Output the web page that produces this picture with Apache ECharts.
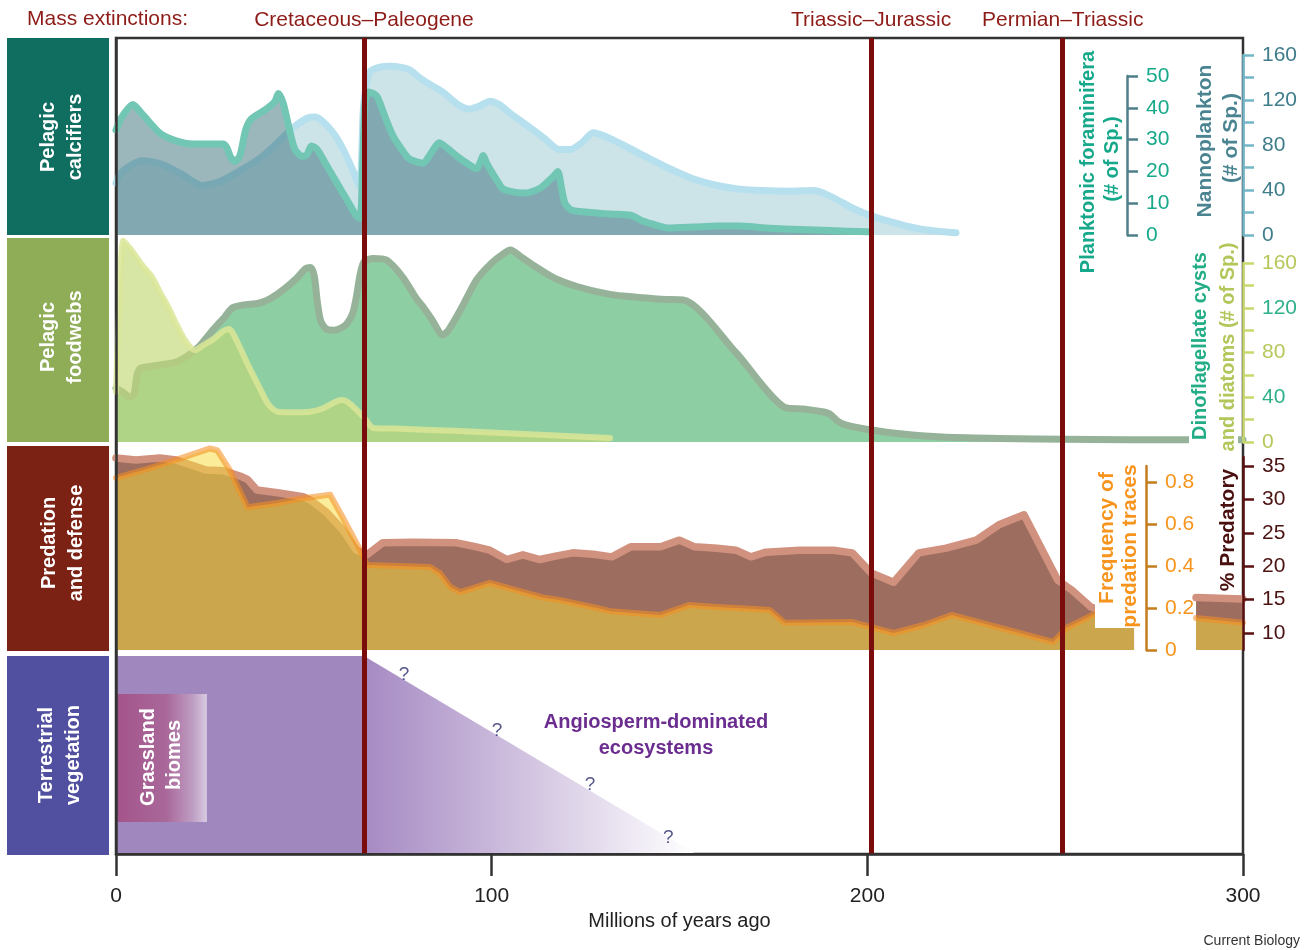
<!DOCTYPE html>
<html><head><meta charset="utf-8">
<script src="https://cdn.jsdelivr.net/npm/echarts@6/dist/echarts.min.js"></script>
<style>html,body{margin:0;padding:0;background:#fff}#c{width:1309px;height:950px}</style>
</head><body><div id="c"></div>
<script>
const FONT = "'Liberation Sans', Arial, Helvetica, sans-serif";

// ---- Data (ages in millions of years ago) ----
const extinctionNames = ['Cretaceous–Paleogene', 'Triassic–Jurassic', 'Permian–Triassic'];
const extinctionAges = [66, 201, 252];
const xTicks = [0, 100, 200, 300];

const nannoAge = [0,1,4,7,12,17,23,28,34,39,43,47,51,53,55,58,60.5,63,64.8,65.3,65.8,66.5,67.6,70,73,76,78,82,87,91,94,97,99.5,102,105,110,114,118,121,124,127,130,135,142,148,153.6,160,165.5,172,180,186,188.5,191.6,196,201,207,213,218,223.6];
const nannoSp = [46,54,62,66,63,55,44,48,59,70,82,95,104,105,101,90,76,58,44,60,110,130,145,149,150,149,147,137,127,116,112,115,119,116,108,96,86,76,76,82,91,88,80,68,58,50,44,41,39.5,39,39.5,37,32,24,17,11,6,3.5,2];

const foramAge = [0,1.5,4.5,7,11.7,16,20.5,28.5,29.5,30.5,31.7,33,34.5,36,40,42.3,43.2,44.5,46,47.6,49.5,50.8,52,53.5,56,58.8,61.5,64,65,65.6,66.3,67.2,69.4,71.5,73.8,76,78,81.7,84,86,88.5,90.7,93.5,96,97,97.7,98.7,99.5,101.5,103,106,109,113,116.5,117.6,118.7,119.5,121,122.7,131.5,137,140,142.7,147,154,160,166,172,178,190,200];
const foramSp = [33,37,41,38,32,29.6,28.6,28.6,27.5,24.5,23.2,25,33,36.5,39.6,42,44.5,41.5,34,27,24.8,25.2,28,27,22,16.4,11,6,5.3,20,41.5,45,43.7,37.5,31,27,24,22.6,26,29,27,24.8,22.5,20.8,23,25,22.5,20.8,17,14.5,13.5,13.2,14.8,18.5,20,14,10,8,7.5,6.6,6.2,4.5,3.5,2.2,2.5,2.8,2.8,2.3,1.9,1.4,1];

const dinoAge = [0,2,3.7,4.8,5.6,6.5,8,12,16,19,22,26,29,31,34,38,41,44.5,48,50.5,51.8,52.8,53.6,54.5,56,58,60,61.5,63,64,65,66,68.4,72,76.4,80,81.7,84,87,88.5,92,96,100,103,105,108,112,117,122.7,131.5,140,145,151,165,178,183,188,190,192,194,201,210,220,235,245,260,280,300];
const dinoSp = [48,44,40,43,60,66,67,69,71.5,77,85,101,112,120,122.5,124,128,136,146,155,156,148,125,108,101,100,102,106,115,130,150,161,164,162.6,147,128,121,110,95.6,100,120,145,160,168,171.6,165,156,146,139,132,129,127.5,127,80,31,29.5,27,25,19,15.5,10.7,7,4.5,3.2,2.7,2.2,2,2];

const diatomAge = [0,0.6,1.3,1.9,2.5,4,7,9.5,11.7,14,16,18,20,21,23,26,28.5,30,31,32.5,35,38,40.5,43,47,51.6,55,58.5,60,62,66,68.5,74,90,110,131.5];
const diatomSp = [45,100,160,180,178,172,158,148,134,120,106,93,84,82,86,92,99,101,98,88,70,50,34,27,26.5,27,30,36,37.5,35,22,12.5,12,10,7,3.5];

const predAge = [0,5.3,11.7,16,24,28.5,33,35,37.5,43,49.8,52,56,60.4,64,66.8,71,79,90.7,95,99.5,104,108.3,112.8,117,121.6,127,132,137,145,150,154,160,165,169,173,182,191,196,201,207,213.7,221,229,235,241.7,250.7,254.5,259.5,265,271,279,287.5,300];
const predPct = [36.2,35.9,36.2,35.9,34.4,34.3,33.5,33,31.4,31,30.4,29.8,28.1,25.4,22.4,21.7,23.5,23.6,23.5,23,22.4,21,21.7,21,21.5,22,21.8,21.4,22.9,22.9,23.9,22.9,22.7,22.4,21.4,22.1,22.4,22.4,22,19,17.6,22,22.7,23.9,26.2,27.7,17.9,16.4,13.9,12.8,12.5,null,15.3,15.1];

const freqAge = [0,7.2,16,25,27,30.3,35,43,49,57,60.4,65,66.8,83.6,86.2,89,91.6,99.5,113.6,118,128,131.5,145,152.5,160,170,174,178,196,207,215,222.5,249.5,253,261,271,279,287.5,300];
const freqVal = [0.82,0.857,0.905,0.96,0.95,0.857,0.68,0.70,0.72,0.74,0.63,0.476,0.405,0.395,0.366,0.3,0.276,0.32,0.25,0.238,0.2,0.185,0.167,0.214,0.205,0.195,0.19,0.13,0.133,0.081,0.119,0.167,0.038,0.105,0.176,0.18,null,0.152,0.13];

const vegAge = [0, 66, 154];
const vegLevel = [1, 1, 0];
const grassAge = [0.3, 24.2];
const grassLevel = [0.157, 0.807];
const qAge = [76.7, 101.4, 126.2, 147];
const qLevel = [0.904, 0.62, 0.345, 0.076];

const nannoTicks = [0, 40, 80, 120, 160];
const foramTicks = [0, 10, 20, 30, 40, 50];
const freqTicks = [0, 0.2, 0.4, 0.6, 0.8];
const predTicks = [10, 15, 20, 25, 30, 35];

// ---- helpers ----
function zip(a, b) { return a.map((x, i) => [x, b[i] === null ? '-' : b[i]]); }
const L = 116, W = 1127;

function hiddenX(i) { return {gridIndex: i, type: 'value', min: 0, max: 300, show: false}; }
function vtext(str, x, y, color, size, weight) {
  return {type: 'text', x: x, y: y, rotation: Math.PI / 2, z: 20, silent: true,
    style: {text: str, fill: color, font: (weight || 'bold') + ' ' + size + 'px ' + FONT,
      align: 'center', verticalAlign: 'middle', textAlign: 'center', textVerticalAlign: 'middle'}};
}
function htext(str, x, y, color, size, weight, align) {
  return {type: 'text', x: x, y: y, z: 20, silent: true,
    style: {text: str, fill: color, font: (weight || 'normal') + ' ' + size + 'px ' + FONT,
      align: align || 'center', verticalAlign: 'middle', textAlign: align || 'center', textVerticalAlign: 'middle'}};
}
function rect(x, y, w, h, fill, z) {
  return {type: 'rect', shape: {x: x, y: y, width: w, height: h}, style: {fill: fill}, z: z || 1, silent: true};
}

const boxes = [
  {y: 38, h: 197, color: '#106e61', lines: ['Pelagic', 'calcifiers'], cy: 137, x1: 48, x2: 75},
  {y: 238, h: 204, color: '#8fac57', lines: ['Pelagic', 'foodwebs'], cy: 337, x1: 48, x2: 75},
  {y: 446, h: 205, color: '#7b2215', lines: ['Predation', 'and defense'], cy: 543, x1: 49, x2: 76},
  {y: 656, h: 199, color: '#5150a0', lines: ['Terrestrial', 'vegetation'], cy: 755, x1: 46, x2: 73}
];
const graphics = [];
boxes.forEach(b => {
  graphics.push(rect(7, b.y, 102, b.h, b.color, 1));
  graphics.push(vtext(b.lines[0], b.x1, b.cy, '#ffffff', 20));
  graphics.push(vtext(b.lines[1], b.x2, b.cy, '#ffffff', 20));
});
graphics.push(htext('Mass extinctions:', 27, 19, '#8d1b17', 21, 'normal', 'left'));
// right axis titles
graphics.push(vtext('Planktonic foraminifera', 1088, 162, '#16a88a', 20));
graphics.push(vtext('(# of Sp.)', 1112, 159, '#16a88a', 20));
graphics.push(vtext('Nannoplankton', 1205, 141, '#4a8491', 21));
graphics.push(vtext('(# of Sp.)', 1231, 138, '#4a8491', 21));
graphics.push(rect(1189, 431, 49, 16, '#ffffff', 15));
graphics.push(vtext('Dinoflagellate cysts', 1200, 346, '#22ad86', 20));
graphics.push(vtext('and diatoms (# of Sp.)', 1228, 347, '#b1c75a', 20));
graphics.push(rect(1095, 460, 46, 168, '#ffffff', 15));
graphics.push(vtext('Frequency of', 1107, 538, '#f7941d', 21));
graphics.push(vtext('predation traces', 1130, 546, '#f7941d', 21));
graphics.push(vtext('% Predatory', 1228, 530, '#4a0f0f', 21));
// vegetation texts
graphics.push(vtext('Grassland', 148, 757, '#ffffff', 20));
graphics.push(vtext('biomes', 174, 755, '#ffffff', 20));
graphics.push(htext('Angiosperm-dominated', 656, 722, '#6b2d8f', 20, 'bold'));
graphics.push(htext('ecosystems', 656, 748, '#6b2d8f', 20, 'bold'));
graphics.push(htext('Current Biology', 1300, 941, '#333333', 14, 'normal', 'right'));

const rightAxisBase = (gi, color, labelColor) => ({
  gridIndex: gi, type: 'value', position: 'right', z: 6,
  axisLine: {show: true, onZero: false, lineStyle: {color: color, width: 2.5}},
  axisTick: {show: true, inside: false, length: 11, lineStyle: {color: color, width: 2.5}},
  axisLabel: {show: true, margin: 19, fontSize: 21, fontFamily: FONT, color: labelColor},
  splitLine: {show: false}
});

const nannoAxis = rightAxisBase(1, '#72b6c8', '#3f7d8b');
Object.assign(nannoAxis, {min: 0, max: 160, interval: 20});
nannoAxis.axisLabel.formatter = v => nannoTicks.includes(v) ? String(v) : '';

const foramAxis = rightAxisBase(2, '#4f7f88', '#17a98a');
Object.assign(foramAxis, {min: 0, max: 50, interval: 10, offset: -116});
foramAxis.axisLabel.formatter = v => foramTicks.includes(v) ? String(v) : '';

const dinoAxis = rightAxisBase(3, '#c9d86e', '#b5c85a');
Object.assign(dinoAxis, {min: 0, max: 160, interval: 20});
dinoAxis.axisLabel.formatter = v => !nannoTicks.includes(v) ? '' : (v % 80 === 0 ? '{y|' + v + '}' : '{g|' + v + '}');
dinoAxis.axisLabel.rich = {y: {color: '#b5c85a', fontSize: 21, fontFamily: FONT}, g: {color: '#2fb08a', fontSize: 21, fontFamily: FONT}};

const freqAxis = rightAxisBase(4, '#c47d1e', '#f7941d');
Object.assign(freqAxis, {min: 0, max: 184 / 210, offset: -97});
freqAxis.axisTick.customValues = freqTicks;
freqAxis.axisLabel.customValues = freqTicks;
freqAxis.axisLabel.formatter = v => v === 0 ? '0' : Number(v).toFixed(1);

const predAxis = rightAxisBase(5, '#5a1010', '#4b1212');
Object.assign(predAxis, {min: 10 - 17 / 6.68, max: 35 + 9 / 6.68});
predAxis.axisTick.customValues = predTicks;
predAxis.axisLabel.customValues = predTicks;
predAxis.axisLabel.formatter = v => String(Math.round(v));

function lineSeries(name, xi, yi, data, z, smooth, lineColor, lineWidth, fillColor) {
  return {name: name, type: 'line', xAxisIndex: xi, yAxisIndex: yi, data: data,
    smooth: smooth, symbol: 'none', clip: false, silent: true, connectNulls: false, z: z,
    lineStyle: {color: lineColor, width: lineWidth, join: 'round', cap: 'round'},
    areaStyle: {color: fillColor, opacity: 1, origin: 'start'}};
}

const grassGradient = new echarts.graphic.LinearGradient(0, 0, 1, 0, [
  {offset: 0, color: '#a4548a'}, {offset: 0.55, color: '#a9689a'}, {offset: 0.85, color: '#bf9fc4'}, {offset: 1, color: '#d8cbe2'}]);

const option = {
  animation: false,
  backgroundColor: '#ffffff',
  textStyle: {fontFamily: FONT},
  grid: [
    {left: L, top: 38, width: W, height: 816, show: true, borderColor: '#333', borderWidth: 2.5, backgroundColor: 'transparent'},
    {left: L, top: 55, width: W, height: 180},
    {left: L, top: 76, width: W, height: 159},
    {left: L, top: 263, width: W, height: 179},
    {left: L, top: 466, width: W, height: 184},
    {left: L, top: 457, width: W, height: 193},
    {left: L, top: 656, width: W, height: 197}
  ],
  xAxis: [
    {gridIndex: 0, type: 'value', min: 0, max: 300, interval: 100, position: 'bottom', z: 6,
      axisLine: {show: true, onZero: false, lineStyle: {color: '#333', width: 2.5}},
      axisTick: {show: true, length: 22, lineStyle: {color: '#333', width: 2.5}},
      axisLabel: {color: '#222', fontSize: 21, margin: 32, fontFamily: FONT, showMinLabel: true, showMaxLabel: true,
        formatter: v => xTicks.includes(v) ? String(v) : ''},
      splitLine: {show: false},
      name: 'Millions of years ago', nameLocation: 'middle', nameGap: 54,
      nameTextStyle: {fontSize: 20, color: '#222', fontFamily: FONT}},
    hiddenX(1), hiddenX(2), hiddenX(3), hiddenX(4), hiddenX(5), hiddenX(6)
  ],
  yAxis: [
    {gridIndex: 0, type: 'value', min: 0, max: 1, position: 'left', z: 6,
      axisLine: {show: true, lineStyle: {color: '#333', width: 2.5}},
      axisTick: {show: false}, axisLabel: {show: false}, splitLine: {show: false}},
    nannoAxis, foramAxis, dinoAxis, freqAxis, predAxis,
    {gridIndex: 6, type: 'value', min: 0, max: 1, show: false}
  ],
  graphic: graphics,
  series: [
    lineSeries('Nannoplankton', 1, 1, zip(nannoAge, nannoSp), 2, 0.25, '#b7e0ee', 7, '#cce3e8'),
    lineSeries('Planktonic foraminifera', 2, 2, zip(foramAge, foramSp), 3, 0.25, '#72c6b4', 7, 'rgba(55,112,122,0.5)'),
    lineSeries('Dinoflagellate cysts', 3, 3, zip(dinoAge, dinoSp), 2, 0.25, '#96b39a', 7, '#8ecea3'),
    lineSeries('Diatoms', 3, 3, zip(diatomAge, diatomSp), 3, 0.25, 'rgba(218,230,150,0.85)', 6, 'rgba(194,215,117,0.65)'),
    lineSeries('% Predatory', 5, 5, zip(predAge, predPct), 2, false, '#d1917f', 7.5, '#9d6e60'),
    lineSeries('Frequency of predation traces', 4, 4, zip(freqAge, freqVal), 3, false, 'rgba(244,142,32,0.57)', 6, 'rgba(245,218,60,0.52)'),
    {name: 'Angiosperm-dominated ecosystems', type: 'line', xAxisIndex: 6, yAxisIndex: 6, data: zip(vegAge, vegLevel),
      smooth: false, symbol: 'none', silent: true, z: 2,
      lineStyle: {width: 0, opacity: 0},
      areaStyle: {opacity: 1, origin: 'start', color: {type: 'linear', x: 0, y: 0, x2: 1, y2: 0, colorStops: [
        {offset: 0, color: '#a088be'}, {offset: 0.428, color: '#a088be'}, {offset: 0.43, color: '#a68ac3'}, {offset: 1, color: '#ffffff'}]}}},
    {name: 'Grassland biomes', type: 'custom', xAxisIndex: 6, yAxisIndex: 6, z: 3, silent: true,
      data: [[grassAge[0], grassLevel[0], grassAge[1], grassLevel[1]]],
      renderItem: function (params, api) {
        const p1 = api.coord([api.value(0), api.value(3)]);
        const p2 = api.coord([api.value(2), api.value(1)]);
        return {type: 'rect', shape: {x: p1[0], y: p1[1], width: p2[0] - p1[0], height: p2[1] - p1[1]},
          style: {fill: grassGradient}};
      }},
    {name: 'uncertainty', type: 'scatter', xAxisIndex: 6, yAxisIndex: 6, data: zip(qAge, qLevel),
      symbolSize: 1, itemStyle: {color: 'rgba(0,0,0,0)'}, silent: true, z: 5,
      label: {show: true, position: 'inside', formatter: '?', color: '#2b2b6b', fontSize: 19, fontFamily: FONT}},
    {name: 'Mass extinctions', type: 'line', xAxisIndex: 0, yAxisIndex: 0, data: [], z: 4, silent: true,
      markLine: {silent: true, symbol: ['none', 'none'], animation: false,
        lineStyle: {color: '#7b0c0c', width: 5, type: 'solid'},
        emphasis: {disabled: true},
        label: {show: true, position: 'end', formatter: '{b}', color: '#8d1b17', fontSize: 21, fontFamily: FONT, distance: 7},
        data: extinctionAges.map((a, i) => ({xAxis: a, name: extinctionNames[i]}))}}
  ]
};

const chart = echarts.init(document.getElementById('c'), null, {renderer: 'canvas'});
chart.setOption(option);
</script>
</body></html>
